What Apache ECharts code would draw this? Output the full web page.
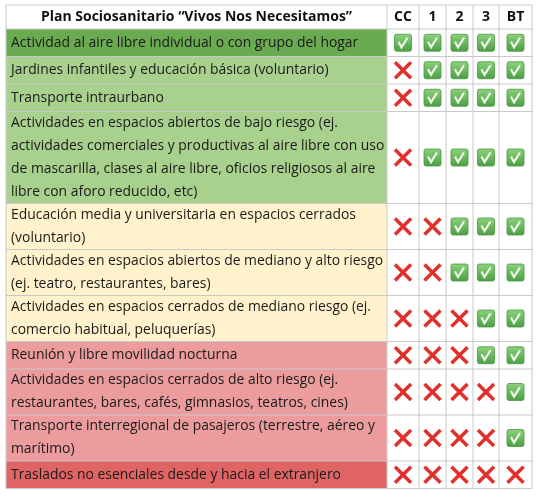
<!DOCTYPE html>
<html><head><meta charset="utf-8">
<script src="https://cdn.jsdelivr.net/npm/echarts@6/dist/echarts.min.js"></script>
<style>html,body{margin:0;background:#fff}#c{width:537px;height:499px}</style>
</head><body><div id="c"></div>
<script>
const title = 'Plan Sociosanitario “Vivos Nos Necesitamos”';
const columns = ['CC','1','2','3','BT'];
const activities = [
 'Actividad al aire libre individual o con grupo del hogar',
 'Jardines infantiles y educación básica (voluntario)',
 'Transporte intraurbano',
 'Actividades en espacios abiertos de bajo riesgo (ej.\nactividades comerciales y productivas al aire libre con uso\nde mascarilla, clases al aire libre, oficios religiosos al aire\nlibre con aforo reducido, etc)',
 'Educación media y universitaria en espacios cerrados\n(voluntario)',
 'Actividades en espacios abiertos de mediano y alto riesgo\n(ej. teatro, restaurantes, bares)',
 'Actividades en espacios cerrados de mediano riesgo (ej.\ncomercio habitual, peluquerías)',
 'Reunión y libre movilidad nocturna',
 'Actividades en espacios cerrados de alto riesgo (ej.\nrestaurantes, bares, cafés, gimnasios, teatros, cines)',
 'Transporte interregional de pasajeros (terrestre, aéreo y\nmarítimo)',
 'Traslados no esenciales desde y hacia el extranjero'
];
const riskGroup = [0,1,1,1,2,2,2,3,3,3,4];
const allowedCC = [1,0,0,0,0,0,0,0,0,0,0];
const allowed1  = [1,1,1,1,0,0,0,0,0,0,0];
const allowed2  = [1,1,1,1,1,1,0,0,0,0,0];
const allowed3  = [1,1,1,1,1,1,1,1,0,0,0];
const allowedBT = [1,1,1,1,1,1,1,1,1,1,0];

const groupColors = ['#6aaa50','#a9d18e','#fff2cc','#ec9c9c','#e06464'];
const colW = [381,32,27,27,26,33];
const headerH = 24, lineH = 23, minH = 27.5;
const heights = activities.map(a => Math.max(minH, a.split('\n').length*lineH));
const tops = []; let acc = headerH;
heights.forEach(h => { tops.push(acc); acc += h; });
const total = acc;
const colX = []; let cx = 0; colW.forEach(w => { colX.push(cx); cx += w; });
const width = cx;
const statusCols = [allowedCC, allowed1, allowed2, allowed3, allowedBT];
const font = '"Open Sans", sans-serif';
const border = '#c9c9c9';

function mark(x, y, ok) {
  if (ok) {
    return {type:'group', children:[
      {type:'rect', shape:{x:x-8.5,y:y-8.5,width:17,height:17,r:2},
       style:{fill:new echarts.graphic.LinearGradient(0,0,0,1,[{offset:0,color:'#8ed27e'},{offset:1,color:'#4a9e43'}]), stroke:'#4a9842', lineWidth:0.8}},
      {type:'polyline', shape:{points:[[x-4.5,y-1],[x-1.5,y+4.5],[x+4.5,y-5]]},
       style:{stroke:'#eef8e6', lineWidth:2.2, fill:null}}
    ]};
  }
  return {type:'group', children:[
    {type:'line', shape:{x1:x-8,y1:y-8,x2:x+8,y2:y+8}, style:{stroke:'#e0302c', lineWidth:3.6}},
    {type:'line', shape:{x1:x+8,y1:y-8,x2:x-8,y2:y+8}, style:{stroke:'#e0302c', lineWidth:3.6}}
  ]};
}

const chart = echarts.init(document.getElementById('c'));
chart.setOption({
  animation:false,
  grid:{left:6, top:5, width:width, height:total},
  xAxis:{type:'value', min:0, max:width, show:false},
  yAxis:{type:'value', min:0, max:total, inverse:true, show:false},
  series:[
  {type:'custom', data:[[0]], renderItem:(p, api) => {
    const ch = [];
    const o = api.coord([0,0]), e = api.coord([colW[0],headerH]);
    ch.push({type:'text', style:{text:title, x:(o[0]+e[0])/2, y:(o[1]+e[1])/2, align:'center', verticalAlign:'middle', font:'bold 14px '+font, fill:'#111'}});
    columns.forEach((c,i) => {
      const a = api.coord([colX[i+1],0]), b = api.coord([colX[i+1]+colW[i+1],headerH]);
      ch.push({type:'text', style:{text:c, x:(a[0]+b[0])/2, y:(a[1]+b[1])/2, align:'center', verticalAlign:'middle', font:'bold 14px '+font, fill:'#111'}});
    });
    return {type:'group', children:ch};
  }},
  {type:'custom', data:activities.map((a,i)=>[i]), renderItem:(p, api) => {
    const i = api.value(0);
    const ch = [];
    const a = api.coord([0,tops[i]]), b = api.coord([colW[0],tops[i]+heights[i]]);
    ch.push({type:'rect', shape:{x:a[0],y:a[1],width:b[0]-a[0],height:b[1]-a[1]}, style:{fill:groupColors[riskGroup[i]]}});
    ch.push({type:'text', style:{text:activities[i], x:a[0]+5, y:(a[1]+b[1])/2, verticalAlign:'middle', font:'13.9px '+font, lineHeight:lineH, fill:'#1a1a1a'}});
    statusCols.forEach((col,j) => {
      const c = api.coord([colX[j+1]+colW[j+1]/2, tops[i]+heights[i]/2]);
      ch.push(mark(c[0], c[1], col[i]===1));
    });
    return {type:'group', children:ch};
  }},
  {type:'custom', data:[[0]], z:5, renderItem:(p, api) => {
    const ch = [];
    const ys = [0].concat(tops).concat([total]);
    ys.forEach(y => { const a=api.coord([0,y]), b=api.coord([width,y]);
      ch.push({type:'line', shape:{x1:a[0],y1:a[1],x2:b[0],y2:b[1]}, style:{stroke:border,lineWidth:1}}); });
    colX.concat([width]).forEach(x => { const a=api.coord([x,0]), b=api.coord([x,total]);
      ch.push({type:'line', shape:{x1:a[0],y1:a[1],x2:b[0],y2:b[1]}, style:{stroke:border,lineWidth:1}}); });
    return {type:'group', children:ch};
  }}
  ]
});
</script></body></html>
